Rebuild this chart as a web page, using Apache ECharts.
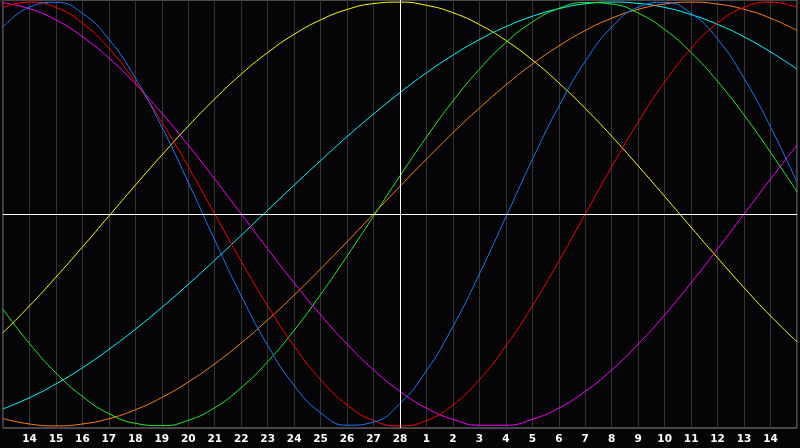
<!DOCTYPE html>
<html>
<head>
<meta charset="utf-8">
<script src="https://cdn.jsdelivr.net/npm/echarts@6/dist/echarts.min.js"></script>
<style>
  html, body { margin: 0; padding: 0; background: #050508; }
  #chart { width: 800px; height: 448px; }
</style>
</head>
<body>
<div id="chart"></div>
<script>
// day labels, 13 Feb .. 15 Mar (today = 28)
var days = ['13', '14', '15', '16', '17', '18', '19', '20', '21', '22', '23', '24', '25', '26', '27', '28',
            '1', '2', '3', '4', '5', '6', '7', '8', '9', '10', '11', '12', '13', '14', '15'];
var todayIndex = 15;

// curve values, one per day
var physical = [0.882, 0.976, 0.999, 0.947, 0.825, 0.641, 0.411, 0.150, -0.123, -0.386, -0.620, -0.809, -0.938, -0.997, -0.982, -0.894,
                -0.740, -0.531, -0.283, -0.014, 0.257, 0.508, 0.721, 0.882, 0.976, 0.999, 0.947, 0.825, 0.641, 0.411, 0.150];
var emotional = [0.975, 1.000, 0.975, 0.901, 0.782, 0.623, 0.434, 0.223, 0.000, -0.223, -0.434, -0.623, -0.782, -0.901, -0.975, -1.000,
                 -0.975, -0.901, -0.782, -0.623, -0.434, -0.223, 0.000, 0.223, 0.434, 0.623, 0.782, 0.901, 0.975, 1.000, 0.975];
var intellectual = [-0.450, -0.611, -0.750, -0.861, -0.942, -0.988, -0.999, -0.974, -0.914, -0.820, -0.697, -0.549, -0.380, -0.199, -0.010, 0.180,
                    0.363, 0.533, 0.683, 0.809, 0.906, 0.970, 0.998, 0.991, 0.948, 0.871, 0.762, 0.626, 0.467, 0.291, 0.105];
var intuitive = [0.997, 0.969, 0.916, 0.837, 0.736, 0.614, 0.476, 0.325, 0.165, 0.000, -0.165, -0.325, -0.476, -0.614, -0.736, -0.837,
                 -0.916, -0.969, -0.997, -0.997, -0.969, -0.916, -0.837, -0.736, -0.614, -0.476, -0.325, -0.165, 0.000, 0.165, 0.325];
var aesthetic = [-0.560, -0.434, -0.298, -0.156, -0.010, 0.136, 0.278, 0.415, 0.543, 0.660, 0.762, 0.848, 0.916, 0.965, 0.993, 1.000,
                 0.985, 0.950, 0.894, 0.819, 0.727, 0.619, 0.498, 0.367, 0.227, 0.083, -0.063, -0.207, -0.348, -0.481, -0.603];
var awareness = [-0.966, -0.991, -1.000, -0.991, -0.966, -0.924, -0.866, -0.793, -0.707, -0.609, -0.500, -0.383, -0.259, -0.131, 0.000, 0.131,
                 0.259, 0.383, 0.500, 0.609, 0.707, 0.793, 0.866, 0.924, 0.966, 0.991, 1.000, 0.991, 0.966, 0.924, 0.866];
var spiritual = [-0.920, -0.867, -0.802, -0.726, -0.639, -0.544, -0.441, -0.332, -0.218, -0.101, 0.018, 0.136, 0.252, 0.365, 0.472, 0.573,
                 0.666, 0.750, 0.823, 0.884, 0.933, 0.969, 0.992, 1.000, 0.994, 0.975, 0.941, 0.895, 0.836, 0.765, 0.684];

var names = ['Aesthetic', 'Spiritual', 'Awareness', 'Intellectual', 'Intuitive', 'Emotional', 'Physical'];
var values = [aesthetic, spiritual, awareness, intellectual, intuitive, emotional, physical];
var colors = ['#ffff00', '#00ffff', '#ff8010', '#22ee22', '#ff00ff', '#ff0000', '#1a78ff'];

var myChart = echarts.init(document.getElementById('chart'));

var series = [];
for (var i = 0; i < names.length; i++) {
    series.push({
        name: names[i],
        type: 'line',
        data: values[i],
        smooth: true,
        showSymbol: false,
        lineStyle: { color: colors[i], width: 1 },
        z: 3
    });
}

// today and zero line
series.push({
    type: 'line',
    data: [],
    z: 2,
    markLine: {
        silent: true,
        symbol: 'none',
        label: { show: false },
        lineStyle: { color: '#ffffff', width: 1, type: 'solid' },
        data: [{ yAxis: 0 }, { xAxis: todayIndex }]
    }
});

option = {
    backgroundColor: '#050508',
    animation: false,
    grid: {
        left: 0,
        right: 0,
        top: 0,
        bottom: 20,
        show: true,
        borderColor: '#8c8c8c',
        borderWidth: 1,
        backgroundColor: '#050508'
    },
    xAxis: {
        type: 'category',
        data: days,
        boundaryGap: false,
        axisLine: { show: true, lineStyle: { color: '#8c8c8c' } },
        axisTick: { show: false },
        axisLabel: {
            interval: 0,
            color: '#ffffff',
            fontFamily: 'DejaVu Sans',
            fontWeight: 'bold',
            fontSize: 10.5,
            margin: 6,
            formatter: function (v, idx) {
                return (idx === 0 || idx === days.length - 1) ? '' : v;
            }
        },
        splitLine: { show: true, interval: 0, lineStyle: { color: '#333333', width: 1 } }
    },
    yAxis: {
        type: 'value',
        min: -1.01,
        max: 1.01,
        show: false,
        splitLine: { show: false }
    },
    series: series
};

myChart.setOption(option);
</script>
</body>
</html>
